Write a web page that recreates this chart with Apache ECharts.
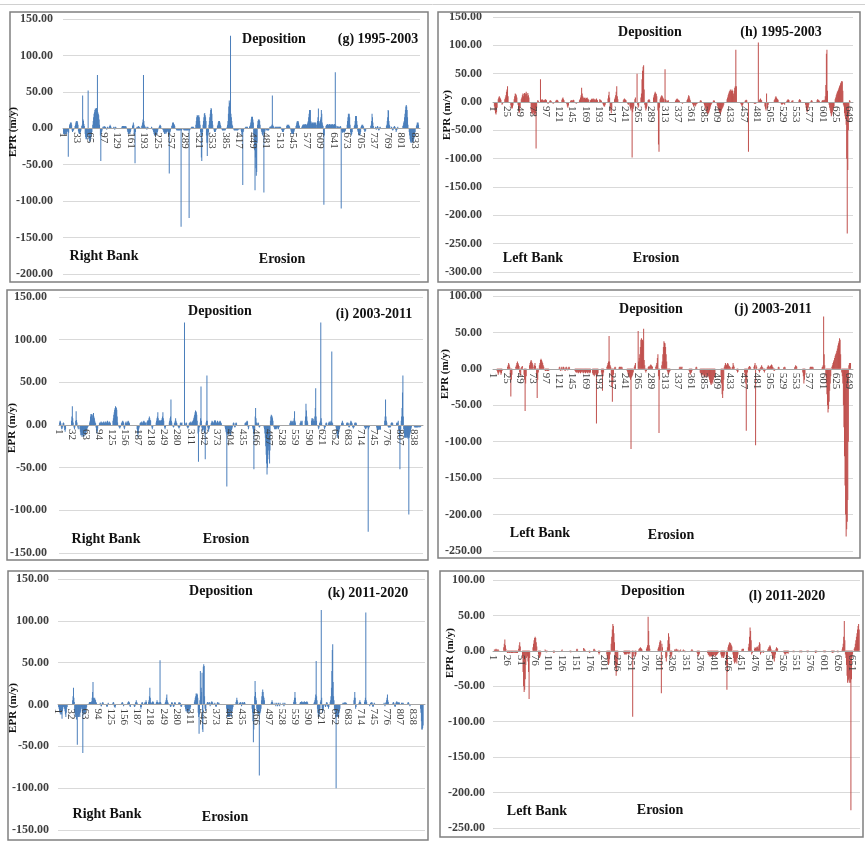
<!DOCTYPE html>
<html><head><meta charset="utf-8">
<script src="https://cdn.jsdelivr.net/npm/echarts@6/dist/echarts.min.js"></script>
<style>html,body{margin:0;padding:0;background:#fff}#c{width:865px;height:842px}</style>
</head><body><div id="c"></div>
<script>
// ---------- DATA (EPR, m/y) : each run = [first transect number, values...] ----------
const gCount = 845, hCount = 656, iCount = 860, jCount = 656, kCount = 865, lCount = 666;
const gY = [-200, 150, 50], hY = [-300, 150, 50], iY = [-150, 150, 50], jY = [-250, 100, 50], kY = [-150, 150, 50], lY = [-250, 100, 50];
const gLabelStep = 32, hLabelStep = 24, iLabelStep = 31, jLabelStep = 24, kLabelStep = 31, lLabelStep = 25;

const gRuns = [
 [1,-5,-8,-6,-8,-10,-8,-5,-6,-8,-4,-3,-5,-39,-6],
 [16,4,6,8,7,8,5,-3,-5,-4,-3,-2],
 [29,3,5,8,10,9,10,8,5],
 [37,-4,-6,-8,-7,-8,-5,-3],
 [45,3,5,45,12,10,6,3],
 [53,-8,-12,-15,-14,-15,-12,-8,52,-10,-15,-18,-17,-18,-15,-12,-8,-5],
 [71,5,10,15,20,22,25,27,26,27,28,25,73,22,20,18,12,5],
 [89,-10,-45,-8,-5,-3],
 [95,2,1,2,3,2,1,2,1,-1,-2,-1,2,1],
 [110,2,3,5,3,2],
 [120,1,2,1,-2,-1,2,1],
 [140,2,3,3,2,3,3,2,3,2,3,2],
 [153,-3,-5,-8,-7,-8,-6,-8,-5,-3],
 [165,3,5,8,5,-10,-8,-48,-5],
 [175,1,2,1,2,3,2,1,2],
 [187,3,5,8,12,73,10,5,3],
 [196,1,2,-1,-2,1,2,1],
 [210,2,1,-1,-2,-3,-5,-8,-10,-9,-10,-8,-10,-9,-8,-5,-3],
 [228,2,3,5,4,3],
 [237,-2,-3,-5,-6,-8,-6,-5,-8,-6,-5,-4,-3,-5,-8,-10,-62,-8,-5,-3],
 [258,3,5,8,7,8,6,5,3],
 [269,-2,-3,-2,-3,-2,-3,-2,-3,-2,-3,-2,-135,-3,-2],
 [286,-2,-3,-2,-3,-2,-3,-2,-3,-2,-3,-2,-3,-2,-123,-3,-2],
 [304,1,2,1,2,1,2,1],
 [315,5,10,15,18,17,18,16,18,15,10,5,-5,-10,-40,-45,-10,-5],
 [332,5,10,15,20,21,18,15,10,-10,-20,-38,-20,-10,-5],
 [346,5,10,15,20,25,28,26,20,10,5],
 [358,-3,-5,-4,-5,-3,-2],
 [366,3,5,8,10,9,10,8,5,3],
 [377,-2,-3,-2,-3,-2,-3,-2,-3,-2,-1],
 [389,2,5,10,20,30,38,35,30,127,20,15,10,5,3],
 [405,-2,-3,-2,-3,-2,-3,-2,-3,-2,-3,-2,-1,-2,-1],
 [422,-3,-5,-10,-8,-78,-5,-3],
 [432,1,2,1,2,1,2],
 [442,2,3,5,8,12,16,15,16,12,8,-10,-20,-30,-85,-40,-55,-65,-60,-20,5,10,12,11,12,10,5],
 [470,-3,-5,-8,-10,-8,-5,-88,-10,-5,-3],
 [482,-2,-3,-2,-3,-2,-3,-2,-1,2,1,2,3,2,5,45,5,3,2],
 [502,1,2,1,2,1,2,1,2,1,2,1,2,1,2,1],
 [518,-2,-3,-5,-4,-5,-3,-2],
 [530,3,5,4,5,4,5,3,2],
 [540,-3,-5,-8,-7,-8,-6,-8,-5,-3],
 [552,3,5,8,10,9,10,8,5,3],
 [566,2,3,5,4,5,6,5,4,5,6,5,4,5,6,8,10,15,20,25,24,25,10,8,6,8,7,8,6,8,7,8,6,8,5],
 [601,5,8,10,15,27,10,8,6,10,12,15,25,20,8,5,3,-10,-105,-10],
 [623,3,5,4,5,6,5,4,5,6,5,4,5,6,5,4,5,6,5,4,5,6,5,77,5,3],
 [650,2,3,2,1,2,1,2,3,2,-110,-3,-5,-6,-5,-4,-5,-6,-5,-4,-3],
 [673,5,10,15,20,18,20,15,5,-5,-8,-10,-8,-5],
 [690,3,5,10,17,15,17,10,5,-3,-5,-8,-10,-9,-10,-8,-5,2,3,5,4,5,3,2,-2,-3,-5,-4,-3],
 [729,3,5,10,20,15,8,3],
 [740,2,-1,-2,1,2,3,2,-2,-3,-2,1,2,1],
 [766,3,5,10,15,25,24,10,5,3],
 [778,2,1,-2,-3,-2,1,2,3,2,1,-2,-5,-3,-2,1,2],
 [805,3,5,8,10,15,20,25,30,32,30,25,15,5],
 [820,-5,-10,-15,-18,-20,-18,-20,-15,-18,-20,-18,-15,-12,-10,-5],
 [837,3,5,8,7,8,5]
];

const hRuns = [
 [3,-8,-15,-20,-22,-18,-10],
 [10,5,8,10,8,6,4],
 [17,-5,-3],
 [22,5,8,12,18,22,28,10],
 [33,-6,-10,-12,-10,-6],
 [39,5,10,15,14,12,8],
 [46,-5,-15,-20,-18,-10],
 [52,5,8,12,15,10,14,16,12,15,18,14,10,16,12,8],
 [70,-15,-20,-22,-20,-18,-20,-22,-25,-20,-15,-10],
 [79,-82],
 [82,3,2],
 [87,40],
 [88,3,4,5,4,3,2,3,4,5,4,3],
 [100,-2,-3],
 [104,2,3,2,1],
 [110,-3,-2],
 [115,2,3,4,3,2],
 [126,4,6,8,5,3],
 [135,-4,-8,-10,-6],
 [142,2,3,3,2,3,4,3],
 [152,-3,-2],
 [158,3,5,8,12,25,15,10,8,6,7,8,6,5,7,8,6,5,4],
 [178,3,4,5,6,5,4,6,5,4,3,5,6,4,3],
 [195,5,4,3,2],
 [201,-4,-6,-8,-8,-5],
 [210,6,12,18,8],
 [214,-8,-15,-20,-12],
 [222,5,8,12,18,28,10,5],
 [238,3,5,6,5,4,3],
 [246,-3,-5,-4],
 [250,-8,-12,-15,-10,-98,-18,-12,-8],
 [259,5,8],
 [263,50],
 [264,-5,-10,-8],
 [270,8,15,40,55,62,65,22],
 [277,-5,-10,-15,-12,-8],
 [283,3,4,5,3],
 [293,8,12,15,18,16,14,10],
 [301,-15,-75,-88,-10],
 [305,5,8,10,12,10,8,6,5],
 [314,58],
 [315,5,3],
 [318,2,2,3],
 [333,2,4,5,6,5,4,3,2],
 [345,-2,-3],
 [354,3,5,8,12,10,6,3],
 [364,-3,-5,-8,-6,-5,-8,-6,-4,-3,-2],
 [378,2,3,2],
 [385,-3,-6,-10,-12,-15,-18,-20,-22,-20,-18,-15,-12,-8,-5,-3],
 [402,2,3,2],
 [409,-5,-8,-12,-15,-18,-20,-22,-18,-15,-12,-10,-8,-5],
 [427,5,8,12,15,18,20,22,18,20,22,20],
 [438,10,15,20,25,28,30,28],
 [443,92],
 [452,-3,-5,-8,-6,-4],
 [460,2,3,4,3,-2],
 [466,-88],
 [476,-2,-3,-2,-3,-2],
 [484,105],
 [486,3,5,6,4,3],
 [496,-8,-12,-15,15,-12,-10,-5],
 [513,3,5,8,10,8,6,5,4],
 [525,-2,-4,-5,-4,-3,-2,-3,-5],
 [536,2,3,5,4,3],
 [545,2,2,3],
 [558,3,5,4,3],
 [570,-5,-10,-15,-18,-15,-10,-5],
 [580,2,3,2],
 [591,3,5,4,3,2],
 [600,2,3,2,3,4,3],
 [606,10,30,85,92,20],
 [613,-5,-10,-15,-20,-25,-22,-18,-15,-10,-8],
 [624,5,8,12,15,18,20,22,25,28,30,33,35,37,36,20],
 [639,-5,-8],
 [641,-20,-25,-30,-40,-100,-232,-120,-50,-25],
 [650,3,2]
];

const iRuns = [
 [2,3,5,4,2,-3,-5,-4,-2,2,3,2,-3,-6,-8,-5],
 [30,5,10,22,8,3],
 [36,-3,-5,-3],
 [40,5,16,6,3],
 [45,-3,-5],
 [50,-5,-8,-12,-10,-12,-14,-12,-10,-12,-14,-12,-10,-8,-12,-10,-8,-6,-4,-3,-2],
 [73,3,5,10,13,12,13,11,8,12,14,10,8,5,3,2,-3,-6,-10,-8,-4],
 [96,2,3,2,3,4,3,2,3,2,3,4,3,2,3,4,3,2,3,4,5,4,3,2,3,4,3,2],
 [128,5,8,12,15,18,20,22,21,20,18,10,3],
 [142,-2,-3,-4,-3,-2],
 [148,2,3,4,5,4,3,-3,-5,-3,2,3,4,2],
 [162,3,4,5,4,3,2],
 [185,-5,-10,-15,-10,-5,-3],
 [192,2,3,2,3,4,3,2,3,4,5,4,3,2,3],
 [208,3,4,5,6,5,8,10,8,6,5],
 [220,-3,-5,-3],
 [230,3,5,8,10,15,8,5,4,5,6,5,4,5,6,8,10,15,8,5],
 [250,-3,-5,-3],
 [261,3,5,8,10,30,5,3],
 [270,-2,-3,-2,2,3,5,8,5,3,2],
 [282,-2,-3,-4,-3,-2,2,3,2,2,3],
 [297,120],
 [300,2,3,2,-2,-3,-4,-3,-2,2,3,2,3,4,3,2,3,4,5,6,8,10,12,15,17,16,15,12,5],
 [329,-10,-43,-8,-3,-2,3,8,45,5,-3,-5,-8,-6,-3,-5,-8,-10,-40,-5,3,5,58,5,-3,-5,-8,-5,-3],
 [360,2,3,5,4,3,2,3,4,5,6,5,4,3,2,3,5,4,3,2,3,4,5,4,3,2],
 [393,-3,-5,-8,-10,-72,-12,-10,-8,-10,-12,-10,-8,-10,-12,-8,-6,-5,-3],
 [412,2,3,2,-2,-3,-2,2,3,2],
 [440,2,3,2,3,4,5,4,-2,-5,-3],
 [458,-3,-5,-10,-52,-10,-5,10,20,8,3],
 [470,2,3,2,-2,-3,-2],
 [485,-3,-5,-10,-15,-25,-35,-45,-58,-50,-40,-30,-25,-35,-45,-30,-20,-10],
 [500,5,10,12,11,10,8,5],
 [508,-2,-3,-5,-4,-5,-3,-4,-5,-3,-2,-4,-5,-3,-2],
 [546,2,3,5,4,3,5,4,3,2,5,8,16,5,3],
 [570,2,3,5,4,3,5],
 [582,5,10,25,17,10,5,3],
 [597,5,8,6,8,7,5],
 [604,5,10,20,43,10,5],
 [613,-3,-5,-3,2,3,5,120,8,3],
 [627,-3,-5,-3,-2,2,3,2],
 [637,2,3,4,3,2,3,5,4,86,3,2],
 [655,-3,-5,-10,-15,-12,-15,-10,-8,-5,-3],
 [668,2,3,5,3,2],
 [680,2,3,2,3,2,-2,-3,-2,2,3,5,4,3,2,-2,-3,-4,-3,-2,2,3,2,3,2],
 [722,-2,-3,-4,-5,-4,-3,-2,-3,-2,-125,-5,-3,-2],
 [751,-3,-5,-6,-5,-6,-5,-4,-5,-6,-5],
 [770,5,10,30,10,5,3],
 [778,-2,-3,-2,-3,-2,-3,-2,2,3,2,3,2],
 [798,2,3,2,3,5,-5,-10,-15,-52,-10,-5,5,10,20,38,58,10,-5,-10,-15,-12,-15,-14,-15,-12,-15,-14,-16,-15,-105,-15,-12,-10,-8,-5,-3],
 [840,-2,-3,-2,-3,-2,-3,-2,-3,-2,-3,-2,-1,-2,-3,-2,-2]
];

const jRuns = [
 [8,-3,-5,-8,-6,-4,-3,-5,-8,-6,-3],
 [27,3,5,8,6,3],
 [32,-10,-38,-15,-8],
 [42,3,5,8,10,8,6,4],
 [49,-5,-10,-8],
 [52,2,3,4],
 [57,-8,-15,-58,-20,-10],
 [67,5,8,10,12,10,8,6],
 [75,3,5,8,4],
 [80,-10,-40,-15,-5],
 [85,5,8,12,14,12,10,8,5,3],
 [95,-2,-3,-3,-2,-3,-3,-2,-3],
 [121,2,3,-2,-3,2,3,-2,2,3,2,-2,-3,2,3,2,-2,-2,2,3,2],
 [150,-3,-4,-5,-5,-4,-5,-6,-5,-4,-5,-6,-5,-4,-3,-5,-6,-5,-4,-5,-6,-5,-4,-5,-6,-5,-4,-5,-6,-5],
 [182,-6,-8,-8,-10,-8,-6,-8,-75,-10,-8,-6],
 [198,-5,-8,-30,-10,-5],
 [208,3,5,8,10,45,10,5,3],
 [216,-10,-25,-45,-20,-8],
 [222,2,3,2],
 [230,2,3,2,3,2,3,2],
 [245,-3,-5,-8,-10,-12,-10,-15,-110,-12,-10,-8,-5],
 [258,3,5,8],
 [265,52],
 [266,10,15,20,30,40,42,35,40,38,55,12,5],
 [278,-3,-5,-3],
 [283,2,3,4,3,5,6,5,4,3],
 [297,3,5,8,15,20,-10,-88,-15],
 [308,5,10,20,30,38,36,35,30,20,10],
 [318,-3,-5,-8,-6,-4,-3],
 [340,2,3,2,3,2,3],
 [358,-3,-5,-8,-6,-5,-3],
 [370,2,3,2],
 [378,-5,-6,-8,-10,-8,-6,-8,-10,-12,-10,-8,-10,-12,-10,-8,-10,-12,-15,-18,-20,-22,-20,-18,-20,-15,-10,-12,-8],
 [416,-10,-20,-35,-40,-30,-15],
 [422,3,5,8,6,5,6,8,7,5,4,3,2],
 [436,2,3,8,5,3],
 [445,-3,-5,-4],
 [459,-5,-10,-20,-85,-15,-5],
 [466,2,3,4,3,2],
 [476,3,5,8,-105,5,3],
 [485,-3,-5,-3,2,3,5,3,2,-2,-3,-5,-3],
 [500,2,3,5,4,3,2,4,5,6,5,3,2,-2,-3,-2],
 [520,2,3,2],
 [530,2,2,3,2],
 [550,2,3,5,4,3],
 [565,-5,-10,-20,-15,-8],
 [578,2,3,2,3,2,3,2],
 [600,2,3,5,72,20,5],
 [607,-10,-20,-35,-50,-60,-55,-45,-30,-20,-10],
 [618,3,5,8,10,12,15,18,20,22,25,28,32,35,38,42,40,20],
 [636,-5,-10],
 [638,-20,-50,-80,-120,-160,-200,-230,-220,-210,-180,-100],
 [649,5,8,6,8]
];

const kRuns = [
 [2,-3,-5,-8,-10,-12,-10,-8,-12,-17,-8,-5,-3,-2,-3,-5,-8,-12,-15,-10,-5,-3],
 [35,5,10,20,8,3],
 [40,-10,-15,-12,-15,-18,-15,-48,-15,-12,-15,-14,-12,-15,-10,-8,-5,-3,-5,-10,-58,-12,-10,-8,-10,-12,-10,-8,-5,-3],
 [74,2,3,2,3,2,3,4,8,15,27,8,5,7,8,6,5,3,2],
 [100,2,1,-2,-2,1,2,3,2],
 [115,-2,-3,-2,1,2],
 [130,2,3,2,-2,-3,-4,-2],
 [150,1,2,3,2,1,-2,-1],
 [165,2,3,4,3,2,-2,-3],
 [180,-2,-3,-2,2,3,5,3,2],
 [195,-3,-5,-3,2,3,2],
 [205,2,3,2,5,3],
 [214,3,5,10,20,8,3,2,1,2,3,4,3,2],
 [232,2,3,5,3,2,1,2,3,2,53,3,2],
 [253,2,3,5,8,12,5,3,2],
 [265,-2,-3,-2,2,3,2,1,-2,-3,-2,2,3,2],
 [285,2,3,2,1,2,-2,-3,-2],
 [300,-3,-5,-8,-6,-8,-10,-8,-6,-8,-10,-8,-6,-5,-3],
 [322,3,5,8,10,13,12,13,12,8,-10,-15,-35,-12,5,40,10,20,15,38,-30,-33,45,48,46,10,-5,-8,-5],
 [352,2,3,2,1,2,3,2,-2,-1,2,3,4,3,2,1],
 [370,2,1,-2,-3,-2,1,2,3,2,1,2],
 [398,-5,-10,-15,-12,-15,-14,-12,-15,-10,-8,-12,-15,-10,-8,-5,-3],
 [420,3,5,8,5,3],
 [428,2,1,2,3,2,-2,-1,2,3,2,1,2,3,2],
 [458,-5,-10,-20,-45,-30,-10,10,28,15,8,5,-5,-8,-10,-12,-10,-12,-85,-12,-10,-8,-5,5,10,15,18,15,10,8,5],
 [503,2,3,5,3,2],
 [512,2,-1,-2,1,2,1,-2,-1,2,1,-1,-2,2],
 [530,1,2,-1,-2,-1,2,1],
 [556,3,5,8,15,8,3],
 [571,2,3,2,3,4,3,2,3,2,3,4,3,2,3,2,3,4,3,2],
 [604,2,3,5,8,12,52,10,5,-5,-10,-15,-12,-15,-10,-5,3,5,113,8,-5,-10,-8,-5],
 [630,-2,-3,-2,2,3,2,-2,-3,-5,-3],
 [642,3,5,10,20,40,65,72,27,10,5,-5,-8,-10,-15,-100,-15,-12,-15,-14,-12,-15,-10,-8,-5],
 [672,2,1,2,1,2,3,2,1,2,1],
 [698,5,8,15,8,-5,-3],
 [710,2,3,5,3,2],
 [723,3,5,8,110,5,3],
 [735,-2,-1,2,1,2,3,2,-2,-3,-2,1,2,1],
 [769,2,1,-2,-1,2,3,5,8,12,5,3],
 [790,2,3,2,1,-2,-3,-2,2,3,4,3,2,1,2,3,2],
 [810,2,1,2,1,2,1],
 [825,2,3,2,1,-1,-2,-1],
 [855,-5,-10,-20,-30,-30,-28,-25]
];

const lRuns = [
 [3,2,1,2,3,2,1,2,2,1],
 [20,5,10,16,8,3],
 [26,-2,-3,-3,-2,-3,-3,-2,-3,-3,-2,-3,-3,-2,-3,-2,-3,-2,-3,-2,-3],
 [47,3,8,12,6],
 [54,-10,-30,-50,-58,-55,-40,-20,-10,-5,-8,-15,-30,-68,-10],
 [73,5,10,15,18,20,18,12,6],
 [83,-5,-8,-10,-8,-5],
 [95,2,1,-2,-2,-1],
 [110,-2,-3,-2],
 [125,1,2],
 [140,-1,-2,-2],
 [152,2,3,2],
 [165,4,3,2,1],
 [175,-2,-3],
 [183,2,3,2,1],
 [192,-3,-5,-3],
 [207,-5,-10,-15,-20,-18,-12,-5],
 [215,10,20,30,38,35,25,12],
 [222,-15,-25,-35,-30,-20,-10],
 [238,-3,-5,-4,-5,-3,-5,-4,-3,-4,-5,-3,-4],
 [253,-10,-93,-8],
 [258,-5,-8,-5],
 [265,2,3,4,5,4,3,2],
 [279,3,5,8,48,28,8,3],
 [300,3,5,8,12,15,14,-60,10,5],
 [314,-10,-15,-8,5,15,25,20,10,-5,-10,-8,-5],
 [330,2,1,2,3,2,1,2,-1,-2,-1,1,2],
 [345,1,2,1,-1,-2],
 [360,1,2,2,1],
 [371,-3,-5,-8,-6,-4],
 [390,-3,-5,-6,-8,-7,-8,-6,-8,-7,-6,-8,-7,-6,-5,-8,-7,-6,-5,-4,-3],
 [414,-5,-8,-10,-8,-6,-10,-8,-5],
 [424,-20,-55,-30,5,8,10,12,11,10,8,6],
 [436,-5,-10,-15,-18,-16,-15,-12,-18,-10,-5],
 [452,2,3,2,3],
 [464,5,10,20,33,28,15,-5,-3],
 [475,3,5,4,3,5,6,5,3,8,12,10,-5,-3],
 [490,-2,-3,-2],
 [499,2,3,5,6,8,6,3,-3,-5,-8,-10,-12,-15,-10,-5,3,5,4,3],
 [528,-2,-3,-5,-4,-5,-3,-2,-3,-4,-2],
 [545,-2,-1,-2],
 [557,-2,-2,-1,-2,-2],
 [570,-1,-2,-2,-1],
 [585,-2,-3,-2,-2],
 [600,-1,-2,-2,-1,-2],
 [615,-2,-2,-3,-2,-2,-1],
 [625,-1,-2,-2],
 [634,2,5,10,20,42,15],
 [640,-5,-10,-20,-35,-45,-42,-40,-45,-38,-45,-225,-40,-10,-5],
 [656,3,5,10,15,20,25,30,35,38,30]
];

const panelIds = ['g','h','i','j','k','l'];
const periodTitles = ['(g) 1995-2003','(h) 1995-2003','(i) 2003-2011','(j) 2003-2011','(k) 2011-2020','(l) 2011-2020'];
const bankNames = ['Right Bank','Left Bank','Right Bank','Left Bank','Right Bank','Left Bank'];
const yAxisTitle = 'EPR (m/y)';
const topText = 'Deposition', bottomText = 'Erosion';

// ---------- LAYOUT / STYLE ----------
const BLUE = '#4a7ebb', RED = '#c0504d';
const layout = [
 {grid:{left:63, top:19, width:357, height:255}, yMargin:10, border:[10,12,418,270], color:BLUE, dep:[274,39], tag:[378,39], bank:[104,256], ero:[282,259], epr:[13,132]},
 {grid:{left:493, top:17, width:360, height:255}, yMargin:11, border:[438,12,422,270], color:RED, dep:[650,32], tag:[781,32], bank:[533,258], ero:[656,258], epr:[447,115]},
 {grid:{left:59, top:297, width:364, height:256}, yMargin:12, border:[7,290,421,270], color:BLUE, dep:[220,311], tag:[374,314], bank:[106,539], ero:[226,539], epr:[12,428]},
 {grid:{left:493, top:296, width:360, height:255}, yMargin:11, border:[438,290,422,268], color:RED, dep:[651,309], tag:[773,309], bank:[540,533], ero:[671,535], epr:[445,374]},
 {grid:{left:58, top:579, width:367, height:251}, yMargin:9, border:[8,571,420,269], color:BLUE, dep:[221,591], tag:[368,593], bank:[107,814], ero:[225,817], epr:[13,708]},
 {grid:{left:493, top:580, width:367, height:248}, yMargin:8, border:[440,571,423,266], color:RED, dep:[653,591], tag:[787,596], bank:[537,811], ero:[660,810], epr:[450,653]}
];

function build(n, runs){
  const a = new Array(n).fill('-');
  runs.forEach(r => { for (let k = 1; k < r.length; k++) a[r[0] - 1 + k - 1] = r[k]; });
  return a;
}
function cats(n){ return Array.from({length:n}, (_, i) => String(i + 1)); }

const counts = [gCount, hCount, iCount, jCount, kCount, lCount];
const runsAll = [gRuns, hRuns, iRuns, jRuns, kRuns, lRuns];
const yRanges = [gY, hY, iY, jY, kY, lY];
const steps = [gLabelStep, hLabelStep, iLabelStep, jLabelStep, kLabelStep, lLabelStep];

const SERIF = '"Liberation Serif", "DejaVu Serif", serif';
const grids = [], xAxes = [], yAxes = [], series = [], graphics = [];

graphics.push({type:'line', shape:{x1:0, y1:4.5, x2:865, y2:4.5}, style:{stroke:'#d0d0d0', lineWidth:1}});

layout.forEach((L, p) => {
  grids.push(Object.assign({containLabel:false}, L.grid));
  const yr = yRanges[p];
  // distance (px) from the grid's bottom edge up to the value 0 on this panel's y scale
  const zeroUp = L.grid.height * (0 - yr[0]) / (yr[1] - yr[0]);
  xAxes.push({
    type:'category', gridIndex:p, data:cats(counts[p]), boundaryGap:true, z:5,
    position:'bottom', offset:-zeroUp,
    axisLine:{show:true, onZero:false, lineStyle:{color:'#a6a6a6', width:1}},
    axisTick:{show:false},
    axisLabel:{interval:steps[p]-1, rotate:-90, margin:4, fontSize:11, fontFamily:SERIF, color:'#404040'},
    splitLine:{show:false}
  });
  yAxes.push({
    type:'value', gridIndex:p, min:yr[0], max:yr[1], interval:yr[2],
    axisLine:{show:false}, axisTick:{show:false},
    axisLabel:{margin:L.yMargin, fontSize:12, fontWeight:'bold', fontFamily:SERIF, color:'#404040', formatter:v => v.toFixed(2)},
    splitLine:{lineStyle:{color:'#d9d9d9', width:1}}
  });
  series.push({
    type:'bar', xAxisIndex:p, yAxisIndex:p, data:build(counts[p], runsAll[p]),
    barWidth:1, itemStyle:{color:L.color}, silent:true, animation:false
  });
  const b = L.border;
  graphics.push({type:'rect', shape:{x:b[0], y:b[1], width:b[2], height:b[3]}, style:{fill:'none', stroke:'#808080', lineWidth:1.5}, z:10});
  const txt = (s, pos, size) => ({type:'text', x:pos[0], y:pos[1], z:20,
    style:{text:s, x:0, y:0, font:'bold ' + size + 'px ' + SERIF, fill:'#111', align:'center', verticalAlign:'middle', textAlign:'center', textVerticalAlign:'middle'}});
  graphics.push(txt(topText, L.dep, 14));
  graphics.push(txt(periodTitles[p], L.tag, 14));
  graphics.push(txt(bankNames[p], L.bank, 14));
  graphics.push(txt(bottomText, L.ero, 14));
  const e = txt(yAxisTitle, L.epr, 11); e.rotation = Math.PI / 2;
  graphics.push(e);
});

const chart = echarts.init(document.getElementById('c'), null, {renderer:'canvas'});
chart.setOption({
  animation:false,
  backgroundColor:'#fff',
  grid:grids, xAxis:xAxes, yAxis:yAxes, series:series, graphic:graphics
});
</script></body></html>
